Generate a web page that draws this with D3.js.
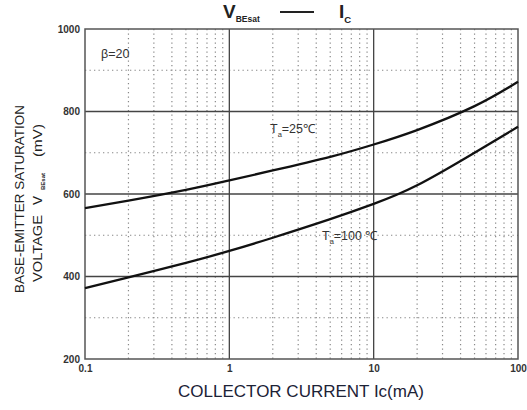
<!DOCTYPE html>
<html>
<head>
<meta charset="utf-8">
<script src="https://cdn.jsdelivr.net/npm/d3@7"></script>
<style>
  body { margin: 0; background: #fff; }
  svg { font-family: 'Liberation Sans', Arial, sans-serif; display: block; }
</style>
</head>
<body>
<svg id="chart" width="527" height="410"></svg>
<script>
// values
const current25 = [0.1, 0.2, 0.5, 1, 2, 5, 10, 20, 50, 100];
const vbe25 = [566, 584, 610, 633, 657, 690, 720, 755, 813, 872];
const current100 = [0.1, 0.2, 0.5, 1, 2, 5, 10, 20, 50, 100];
const vbe100 = [372, 398, 433, 462, 494, 539, 576, 621, 700, 763];
const xTicks = [0.1, 1, 10, 100];
const xTickLabels = ['0.1', '1', '10', '100'];
const yTicks = [200, 400, 600, 800, 1000];
const yMinor = [300, 500, 700, 900];

const svg = d3.select('#chart');
const plotL = 85, plotR = 518, plotT = 29, plotB = 359;

const x = d3.scaleLog().domain([0.1, 100]).range([plotL, plotR]);
const y = d3.scaleLinear().domain([200, 1000]).range([plotB, plotT]);

// minor verticals: 2..9 of each decade
const xMinor = [];
[0.1, 1, 10].forEach(d => {
  for (let k = 2; k <= 9; k++) xMinor.push(d * k);
});

const grid = svg.append('g');
grid.selectAll('.vminor')
  .data(xMinor)
  .join('line')
  .attr('x1', d => x(d)).attr('x2', d => x(d))
  .attr('y1', plotT).attr('y2', plotB)
  .attr('stroke', '#888').attr('stroke-width', 1.2)
  .attr('stroke-dasharray', '1.3,3.2');

grid.selectAll('.hminor')
  .data(yMinor)
  .join('line')
  .attr('x1', plotL).attr('x2', plotR)
  .attr('y1', d => y(d)).attr('y2', d => y(d))
  .attr('stroke', '#888').attr('stroke-width', 1.2)
  .attr('stroke-dasharray', '1.3,3.2');

grid.selectAll('.vmajor')
  .data([1, 10])
  .join('line')
  .attr('x1', d => x(d)).attr('x2', d => x(d))
  .attr('y1', plotT).attr('y2', plotB)
  .attr('stroke', '#444').attr('stroke-width', 1.3);

grid.selectAll('.hmajor')
  .data([400, 600, 800])
  .join('line')
  .attr('x1', plotL).attr('x2', plotR)
  .attr('y1', d => y(d)).attr('y2', d => y(d))
  .attr('stroke', '#444').attr('stroke-width', 1.3);

svg.append('rect')
  .attr('x', plotL).attr('y', plotT)
  .attr('width', plotR - plotL).attr('height', plotB - plotT)
  .attr('fill', 'none').attr('stroke', '#555').attr('stroke-width', 1.5);

// axes (labels only, frame drawn above)
const xAxis = d3.axisBottom(x).tickValues(xTicks)
  .tickFormat((d, i) => xTickLabels[i]).tickSize(0).tickPadding(6);
svg.append('g').attr('transform', `translate(0,${plotB})`).call(xAxis)
  .call(g => g.select('.domain').remove())
  .selectAll('text')
  .attr('font-size', 10).attr('font-weight', 'bold').attr('fill', '#333')
  .attr('font-family', "'Liberation Sans', Arial, sans-serif");

const yAxis = d3.axisLeft(y).tickValues(yTicks)
  .tickFormat(d3.format('d')).tickSize(0).tickPadding(5);
svg.append('g').attr('transform', `translate(${plotL},0)`).call(yAxis)
  .call(g => g.select('.domain').remove())
  .selectAll('text')
  .attr('font-size', 10).attr('font-weight', 'bold').attr('fill', '#333')
  .attr('font-family', "'Liberation Sans', Arial, sans-serif");

// curves
const line = d3.line()
  .x(d => x(d[0]))
  .y(d => y(d[1]))
  .curve(d3.curveNatural);

svg.append('path')
  .datum(d3.zip(current25, vbe25))
  .attr('d', line)
  .attr('fill', 'none').attr('stroke', '#111').attr('stroke-width', 2.3);

svg.append('path')
  .datum(d3.zip(current100, vbe100))
  .attr('d', line)
  .attr('fill', 'none').attr('stroke', '#111').attr('stroke-width', 2.3);

// annotations
svg.append('text').attr('x', 101).attr('y', 58)
  .attr('font-size', 12.5).attr('fill', '#333').text('β=20');

const t25 = svg.append('text').attr('x', 270).attr('y', 133)
  .attr('font-size', 12.5).attr('fill', '#333');
t25.append('tspan').text('T');
t25.append('tspan').attr('font-size', 7.5).attr('dy', 4).text('a');
t25.append('tspan').attr('dy', -4).text('=25℃');

const t100 = svg.append('text').attr('x', 322).attr('y', 240)
  .attr('font-size', 12.5).attr('fill', '#333');
t100.append('tspan').text('T');
t100.append('tspan').attr('font-size', 7.5).attr('dy', 4).text('a');
t100.append('tspan').attr('dy', -4).text('=100 ℃');

// title
const title = svg.append('text').attr('x', 223).attr('y', 18)
  .attr('font-weight', 'bold').attr('fill', '#222');
title.append('tspan').attr('font-size', 19).text('V');
title.append('tspan').attr('font-size', 8.5).attr('dy', 4).text('BEsat');
svg.append('line')
  .attr('x1', 280).attr('x2', 314).attr('y1', 12).attr('y2', 12)
  .attr('stroke', '#222').attr('stroke-width', 2);
const ic = svg.append('text').attr('x', 339).attr('y', 18)
  .attr('font-weight', 'bold').attr('fill', '#222');
ic.append('tspan').attr('font-size', 19).text('I');
ic.append('tspan').attr('font-size', 9.5).attr('dy', 5).text('C');

// y title, two rotated lines
const yl = svg.append('g').attr('transform', 'translate(24,199) rotate(-90)');
yl.append('text').attr('text-anchor', 'middle')
  .attr('font-size', 13).attr('fill', '#222')
  .attr('textLength', 188).attr('lengthAdjust', 'spacingAndGlyphs')
  .text('BASE-EMITTER SATURATION');
yl.append('text').attr('x', -83).attr('y', 18)
  .attr('font-size', 13.5).attr('fill', '#222')
  .attr('textLength', 67).attr('lengthAdjust', 'spacingAndGlyphs')
  .text('VOLTAGE');
yl.append('text').attr('x', -6).attr('y', 18)
  .attr('font-size', 13.5).attr('fill', '#222').text('V');
yl.append('text').attr('x', 9).attr('y', 21)
  .attr('font-size', 6).attr('font-weight', 'bold').attr('fill', '#222').text('BEsat');
yl.append('text').attr('x', 42).attr('y', 18)
  .attr('font-size', 13.5).attr('fill', '#222')
  .attr('textLength', 33).attr('lengthAdjust', 'spacingAndGlyphs')
  .text('(mV)');

// x title
svg.append('text').attr('x', 301).attr('y', 397)
  .attr('text-anchor', 'middle').attr('font-size', 17).attr('fill', '#1c2236')
  .text('COLLECTOR CURRENT Ic(mA)');
</script>
</body>
</html>
